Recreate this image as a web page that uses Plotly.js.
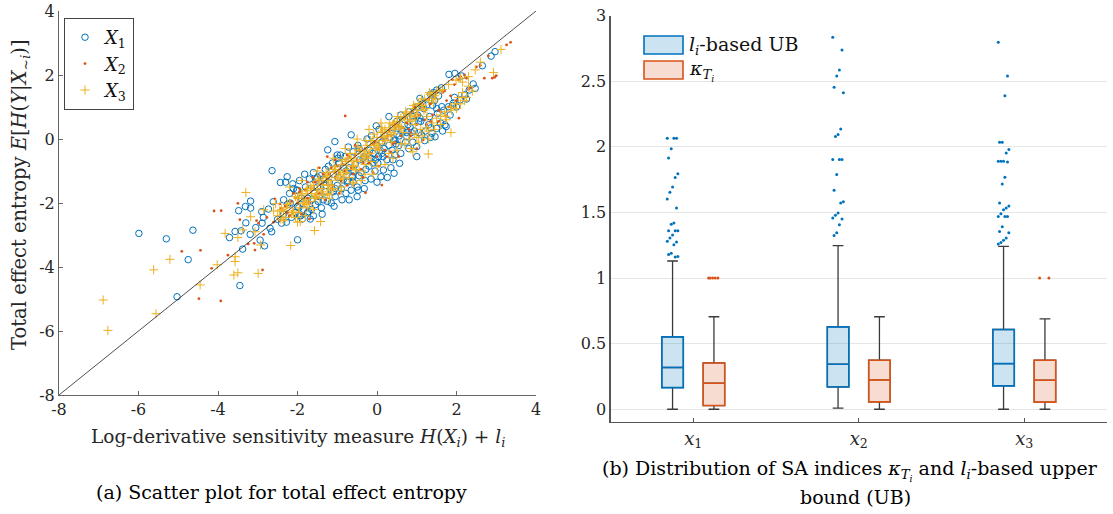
<!DOCTYPE html>
<html><head><meta charset="utf-8">
<script src="https://cdn.plot.ly/plotly-3.0.1.min.js"></script>
<style>html,body{margin:0;padding:0;background:#fff}#chart{width:1113px;height:514px}</style>
</head><body><div id="chart"></div>
<script>
// ---------- (a) scatter data ----------
var x1 = [-5.99,-5.30,-4.63,-4.75,-5.03,-3.45,-3.38,-3.71,-3.57,-3.42,-3.48,-3.31,-3.18,-3.18,-3.30,-3.19,-3.05,-2.94,-2.83,-2.90,
 -2.73,-2.61,-2.89,-2.69,-2.65,-2.86,-2.50,-2.40,-2.64,-2.00,-2.43,-2.26,-2.30,-2.20,-2.25,-2.10,-2.05,-1.95,-1.90,-1.85,
 -1.80,-2.15,-1.75,-1.70,-1.72,-2.00,-1.65,-1.60,-1.55,-1.50,-1.45,-1.40,-1.35,-1.30,-1.30,-1.25,-1.24,-1.20,-1.15,-1.10,
 -1.06,-1.05,-1.00,-0.95,-0.90,-0.88,-0.85,-0.80,-0.75,-0.70,-0.70,-0.65,-0.65,-0.60,-0.62,-0.55,-0.50,-0.47,-0.45,-0.40,
 -0.35,-0.30,-0.25,-0.20,-0.15,-0.10,-0.05,-0.02,0.00,0.02,0.05,0.10,0.12,0.16,0.20,0.25,0.30,0.30,0.35,0.40,
 0.43,0.45,0.50,0.55,0.57,0.60,0.60,0.70,0.80,0.90,1.00,1.08,1.15,1.25,0.75,0.80,0.83,0.90,1.00,1.05,
 1.12,1.20,1.35,1.50,1.55,1.45,1.38,1.46,1.50,1.30,1.60,1.63,1.71,1.74,1.80,1.92,2.09,2.21,2.32,2.47,
 2.42,1.90,1.81,1.96,2.13,2.65,2.87,2.97,1.62,1.42,-1.48,-0.78,-0.32,0.08,0.65,-1.92,-2.35,-0.98,0.38,1.10,
 -2.35,-2.18,-2.02,-1.88,-1.74,-1.58,-1.42,-1.28,-1.12,-0.98,-0.84,-0.72,-0.58,-0.44,-0.28,-0.14,0.04,0.18,0.34,0.48,
 0.62,0.78,0.94,1.08,1.22,1.36,1.52,1.68,1.84,2.00,-1.95,-1.65,-1.35,-1.05,-0.75,-0.45,-0.15,0.15,0.45,0.75,
 1.05,1.35,1.65,1.95,2.25,
 -2.28,-2.12,-1.97,-1.82,-1.68,-1.52,-1.38,-1.22,-1.08,-0.92,-0.78,-0.62,-0.48,-0.32,-0.18,-0.04,0.12,0.26,0.42,0.56,
 0.72,0.86,1.02,1.18,1.32,-1.60,-1.10,-0.60,-0.10,0.40,0.90,1.40,-2.00,-1.50,-1.00,-0.50,0.00,0.50,1.00,1.50];
var y1 = [-2.95,-3.12,-2.85,-3.77,-4.93,-4.58,-3.44,-3.08,-2.89,-2.87,-2.24,-2.11,-1.94,-2.16,-2.62,-2.98,-2.77,-3.16,-3.34,-2.27,
 -2.19,-1.96,-2.63,-2.79,-2.90,-2.45,-2.51,-2.63,-0.99,-3.15,-1.36,-1.18,-1.35,-1.70,-2.05,-1.55,-2.30,-1.30,-1.85,-2.20,
 -1.50,-2.45,-2.30,-1.25,-2.27,-2.11,-1.90,-1.05,-2.05,-1.50,-1.80,-2.15,-1.25,-0.95,-1.65,-1.95,-0.34,-1.35,-2.00,-1.10,
 -0.08,-1.80,-1.45,-0.75,-1.55,-1.90,-1.28,-0.55,-1.35,-1.90,-0.90,0.13,-1.60,-0.40,-1.15,-0.80,-1.50,-1.60,-0.30,-1.05,
 -0.60,-1.30,0.00,-0.85,-1.25,-0.45,-1.00,0.41,-0.20,-0.75,0.30,-1.18,-0.45,-0.97,0.10,-0.65,0.70,-0.20,-0.90,0.35,
 -1.07,-0.50,0.55,-0.20,-0.76,0.75,-0.45,0.60,0.85,0.70,1.00,1.27,1.10,1.06,0.07,-0.30,0.38,-0.10,-0.24,0.20,
 0.13,-0.05,1.40,1.53,1.35,1.20,0.18,0.07,0.33,0.45,0.50,1.01,0.44,0.39,1.01,1.12,1.22,1.38,1.53,1.58,
 1.72,1.05,2.02,2.05,1.97,2.29,2.59,2.73,1.60,1.45,-1.95,-1.00,-0.55,-0.35,0.25,-2.40,-2.35,-0.60,-0.35,0.55,
 -1.90,-2.00,-1.60,-2.50,-1.85,-1.70,-1.15,-1.45,-0.75,-1.20,-0.90,-0.25,-1.00,-0.65,-0.95,0.10,-0.55,-0.30,0.05,-0.15,
 0.30,0.45,0.25,0.65,0.25,0.35,0.80,0.90,0.75,1.00,-2.40,-2.20,-1.90,-1.55,-1.30,-1.15,-0.60,-0.55,-0.05,0.20,
 0.55,0.05,0.25,1.30,1.25,
 -2.60,-1.40,-2.15,-1.10,-2.50,-1.25,-2.35,-0.85,-2.10,-0.50,-1.70,-1.20,-0.20,-1.55,-0.35,-0.65,-0.10,-1.20,-0.05,0.10,
 -0.10,0.20,0.75,0.95,0.70,-2.40,-1.65,-1.35,-0.75,-0.65,0.55,1.05,-1.60,-1.20,-0.50,-1.80,-1.35,0.15,-0.55,0.95];

var x2 = [-4.91,-4.44,-4.48,-3.93,-4.16,-3.92,-3.75,-3.50,-3.45,-3.24,-3.07,-3.09,-2.88,-3.03,-2.98,-2.85,-2.77,-2.57,-2.44,-2.41,
 -0.80,3.26,3.36,2.90,3.00,2.20,2.06,1.74,0.12,-0.29,1.16,2.96,-4.10,-2.30,-2.20,-2.10,-2.00,-1.90,-1.80,-1.70,
 -1.60,-1.50,-1.40,-1.30,-1.20,-1.10,-1.00,-0.90,-0.80,-0.70,-0.60,-0.50,-0.40,-0.30,-0.20,-0.10,0.00,0.10,0.20,0.30,
 0.40,0.50,0.60,0.70,0.80,0.90,1.00,1.10,1.20,1.30,1.40,1.50,1.60,1.70,1.80,1.90,2.00,2.10,2.30,2.50,
 2.70,2.80,-1.70,-2.60,-1.45,-0.95,-0.35,0.55,1.00,-1.25,-1.95,-1.15,-0.55,0.05,0.35,0.85,1.35,-0.75,-1.62,0.25,
 -2.25,-2.05,-1.85,-1.65,-1.45,-1.25,-1.05,-0.85,-0.65,-0.45,-0.25,-0.05,0.15,0.35,0.55,0.75,0.95,1.15,1.35,1.55,
 1.75,1.95,2.15,2.35,-1.95,-1.55,-1.15,-0.75,-0.35,0.05,0.45,0.85,1.25,1.65,2.05,
 -2.15,-1.75,-1.35,-0.95,-0.55,-0.15,0.25,0.65,1.05,1.45,1.85,-2.45,-1.05,0.45,1.55,2.25,2.60,-0.10,-1.75,0.95];
var y2 = [-3.51,-3.48,-4.99,-5.06,-4.04,-2.24,-3.63,-2.01,-2.52,-3.28,-3.47,-3.26,-4.09,-2.55,-2.63,-2.98,-2.45,-1.87,-2.03,-2.17,
 0.72,2.94,3.02,1.90,1.98,2.00,0.65,0.72,-1.44,-1.68,-0.03,1.93,-2.25,-2.10,-2.40,-1.70,-2.00,-2.35,-1.60,-2.00,
 -1.35,-1.85,-1.40,-1.90,-1.10,-1.45,-0.85,-1.30,-1.00,-0.55,-1.10,-0.65,-0.95,-0.30,-0.75,-0.15,-0.55,0.05,-0.35,0.25,
 -0.15,0.45,0.10,0.65,0.30,0.85,0.45,1.10,0.60,1.25,0.75,1.45,0.85,1.50,1.00,1.85,1.20,1.95,1.55,2.25,
 1.90,2.60,-2.50,-2.60,-0.90,-1.70,-1.20,-0.55,-0.30,-0.55,-1.55,-0.90,-0.20,-0.85,-0.40,0.10,0.55,-1.45,-1.20,-0.55,
 -2.30,-1.85,-2.05,-1.55,-1.70,-1.25,-1.20,-0.80,-0.90,-0.35,-0.55,-0.10,-0.05,0.10,0.40,0.50,0.70,0.95,1.10,0.90,
 1.20,1.70,1.30,1.60,-1.65,-1.35,-1.55,-0.50,-0.75,-0.30,0.35,0.20,0.45,1.45,1.85,
 -1.95,-1.85,-1.10,-1.05,-0.50,-0.45,0.10,0.35,0.75,1.30,1.35,-2.55,-0.65,-0.10,0.55,1.90,2.30,-1.05,-1.35,1.00];

var x3 = [-6.89,-6.77,-5.56,-5.62,-5.21,-4.45,-4.02,-3.82,-3.57,-3.57,-3.60,-3.50,-3.50,-2.99,-3.38,-3.30,-3.18,-3.07,-2.93,-2.85,
 -2.55,-2.60,-1.93,-1.42,-1.57,-2.17,1.29,1.86,-2.50,-2.40,-2.30,-2.20,-2.10,-2.00,-1.95,-1.90,-1.85,-1.80,-1.75,-1.70,
 -1.65,-1.60,-1.55,-1.50,-1.45,-1.40,-1.35,-1.30,-1.25,-1.20,-1.15,-1.10,-1.05,-1.00,-0.95,-0.90,-0.85,-0.80,-0.75,-0.70,
 -0.65,-0.60,-0.55,-0.50,-0.45,-0.40,-0.35,-0.30,-0.25,-0.20,-0.15,-0.10,-0.05,0.00,0.05,0.10,0.15,0.20,0.25,0.30,
 0.35,0.40,0.45,0.50,0.55,0.60,0.70,0.75,0.85,0.90,1.00,1.05,1.15,1.20,1.30,1.35,1.45,1.50,-1.60,-1.20,
 -0.90,-0.60,-0.40,-0.10,0.20,0.40,-2.00,-1.80,-2.20,-1.90,-1.50,-1.10,-0.80,-0.50,-0.20,0.10,0.60,0.80,0.95,1.05,
 1.10,1.25,1.40,1.50,1.60,1.70,1.75,1.85,1.95,2.05,2.15,2.20,2.30,1.30,0.90,1.99,2.15,2.30,2.47,2.93,
 3.12,2.60,1.65,1.80,2.10,-1.25,-0.72,-0.28,0.18,0.68,-1.78,-2.35,-1.05,-0.15,0.45,1.12,1.58,-0.58,-1.38,0.95,
 -2.45,-2.35,-2.25,-2.15,-2.05,-1.98,-1.88,-1.78,-1.68,-1.58,-1.48,-1.38,-1.28,-1.18,-1.08,-0.98,-0.88,-0.78,-0.68,-0.58,
 -0.48,-0.38,-0.28,-0.18,-0.08,0.02,0.12,0.22,0.32,0.42,0.52,0.62,0.72,0.82,0.92,1.02,1.12,1.22,1.32,1.42,
 0.30,0.50,0.70,0.85,1.00,1.15,1.30,1.45,1.60,1.72,1.88,2.00,2.10,2.25,2.40,0.00,-0.30,-0.60,-0.90,-1.20,
 -2.42,-2.28,-2.12,-1.96,-1.82,-1.66,-1.52,-1.36,-1.22,-1.06,-0.92,-0.76,-0.62,-0.46,-0.32,-0.16,-0.02,0.14,0.28,0.44,
 0.58,0.74,0.88,1.04,1.18,1.34,1.48,-1.74,-1.44,-1.14,-0.84,-0.54,-0.24,0.06,0.36,0.66,0.96,1.26,-2.05,-1.25];
var y3 = [-5.03,-5.98,-5.46,-4.09,-3.76,-4.56,-3.93,-2.95,-3.68,-3.83,-4.25,-4.18,-3.08,-4.20,-2.84,-1.67,-2.43,-2.90,-3.31,-2.21,
 -2.02,-2.25,-2.58,-2.58,-2.86,-3.33,-0.47,0.20,-2.40,-2.20,-2.45,-2.00,-2.30,-1.85,-2.15,-1.70,-2.00,-1.90,-1.55,-1.95,
 -1.70,-1.45,-1.80,-1.60,-1.30,-1.55,-1.75,-1.20,-1.45,-1.05,-1.30,-1.55,-0.95,-1.20,-1.00,-0.80,-1.10,-0.70,-0.95,-1.20,
 -0.60,-0.85,-0.45,-0.70,-1.00,-0.35,-0.55,-0.80,-0.20,-0.45,-0.70,-0.05,-0.30,0.05,-0.15,0.20,-0.05,0.30,0.10,0.35,
 0.20,0.45,0.30,0.55,0.40,0.65,0.60,0.80,0.75,0.95,0.90,1.10,1.05,1.25,1.20,1.40,1.35,1.50,-2.20,-1.85,
 -1.60,-1.40,-1.30,-1.10,-0.80,-0.60,-2.60,-2.40,-1.50,-1.30,-1.00,-0.60,-0.30,0.00,0.30,0.50,-0.15,0.00,0.15,-0.10,
 0.30,0.35,0.50,0.65,0.75,0.85,0.60,1.00,1.10,1.30,1.45,1.20,1.65,0.00,-0.40,1.84,1.78,1.95,2.16,2.08,
 2.80,2.40,1.55,1.70,1.90,-1.15,-0.62,-0.38,0.05,0.70,-1.62,-2.25,-1.02,-0.20,0.42,1.05,1.52,-0.68,-1.42,0.70,
 -2.25,-2.55,-2.05,-2.35,-1.80,-2.30,-1.75,-2.05,-1.50,-1.85,-1.25,-1.65,-1.05,-1.45,-0.85,-1.25,-0.65,-1.05,-0.45,-0.85,
 -0.25,-0.65,-0.05,-0.45,0.15,-0.25,0.35,-0.05,0.50,0.15,0.70,0.35,0.85,0.55,1.05,0.75,1.25,0.95,1.45,1.15,
 -0.45,-0.35,-0.15,-0.30,0.05,0.10,0.25,0.30,0.45,0.70,0.90,0.95,1.10,1.30,1.50,-0.85,-1.10,-1.35,-1.50,-1.75,
 -2.50,-2.15,-2.25,-1.85,-2.00,-1.55,-1.75,-1.30,-1.45,-0.95,-1.15,-0.70,-0.85,-0.35,-0.50,-0.05,-0.20,0.25,0.10,0.50,
 0.35,0.80,0.60,1.10,0.90,1.40,1.25,-2.15,-1.85,-1.60,-1.25,-0.95,-0.60,-0.35,-0.10,0.20,0.45,0.70,-2.45,-1.70];

var refX = [-8, 4];
var refY = [-8, 4];

// ---------- (b) box data ----------
var catPos = [1, 2, 3];
var catLabels = ['<i>x</i><sub>1</sub>', '<i>x</i><sub>2</sub>', '<i>x</i><sub>3</sub>'];
var ubQ1  = [0.165, 0.170, 0.178];
var ubMed = [0.318, 0.343, 0.348];
var ubQ3  = [0.552, 0.628, 0.608];
var ubLo  = [0.000, 0.008, 0.000];
var ubHi  = [1.130, 1.247, 1.241];
var kQ1   = [0.028, 0.056, 0.054];
var kMed  = [0.198, 0.224, 0.221];
var kQ3   = [0.353, 0.374, 0.374];
var kLo   = [0.000, 0.000, 0.000];
var kHi   = [0.705, 0.705, 0.689];
var ubOut1 = [2.066,2.066,2.066,1.985,1.916,1.796,1.766,1.695,1.654,1.603,1.534,1.420,1.410,1.361,1.361,1.361,1.328,1.305,1.280,1.275,1.254,1.190,1.180,1.165,1.160];
var ubOut2 = [2.835,2.738,2.586,2.540,2.454,2.413,2.137,2.094,2.080,1.903,1.903,1.903,1.789,1.669,1.582,1.573,1.496,1.478,1.458,1.450,1.407,1.346,1.325];
var ubOut3 = [2.797,2.540,2.390,2.035,2.035,1.980,1.954,1.890,1.890,1.890,1.885,1.768,1.717,1.572,1.550,1.535,1.520,1.490,1.470,1.470,1.470,1.392,1.354,1.345,1.305,1.288,1.272,1.260];
var kOut1 = [1.0,1.0,1.0,1.0,1.0];
var kOut2 = [];
var kOut3 = [1.0,1.0];

// ---------- styling ----------
var FONT = 'DejaVu Serif';
var BLUE = '#0072BD', RED = '#D95319', YEL = '#EDB120';
var OFF = 0.125, BW = 0.13;
var W = 1113, H = 514;
function px(x){return x / W;}
function py(y){return 1 - y / H;}

var traces = [];
traces.push({type:'scatter', mode:'markers', x:x1, y:y1, name:'<i>X</i><sub>1</sub>', xaxis:'x', yaxis:'y',
  marker:{symbol:'circle-open', size:6.5, color:BLUE, line:{width:1, color:BLUE}}});
traces.push({type:'scatter', mode:'markers', x:x2, y:y2, name:'<i>X</i><sub>2</sub>', xaxis:'x', yaxis:'y',
  marker:{symbol:'circle', size:2.8, color:RED, line:{width:0}}});
traces.push({type:'scatter', mode:'markers', x:x3, y:y3, name:'<i>X</i><sub>3</sub>', xaxis:'x', yaxis:'y',
  marker:{symbol:'cross-thin-open', size:6.5, color:YEL, line:{width:1, color:YEL}}});
traces.push({type:'scatter', mode:'lines', x:refX, y:refY, showlegend:false, xaxis:'x', yaxis:'y',
  line:{color:'#222', width:0.8}, hoverinfo:'skip'});

function shift(arr, d){return arr.map(function(v){return v + d;});}
traces.push({type:'box', x:shift(catPos,-OFF), q1:ubQ1, median:ubMed, q3:ubQ3, lowerfence:ubLo, upperfence:ubHi,
  width:BW, whiskerwidth:0.5, line:{color:'#3a3a3a', width:1.3}, fillcolor:'rgba(0,0,0,0)', showlegend:false,
  xaxis:'x2', yaxis:'y2', boxpoints:false});
traces.push({type:'box', x:shift(catPos,OFF), q1:kQ1, median:kMed, q3:kQ3, lowerfence:kLo, upperfence:kHi,
  width:BW, whiskerwidth:0.5, line:{color:'#3a3a3a', width:1.3}, fillcolor:'rgba(0,0,0,0)', showlegend:false,
  xaxis:'x2', yaxis:'y2', boxpoints:false});
traces.push({type:'box', x:shift(catPos,-OFF), q1:ubQ1, median:ubMed, q3:ubQ3, lowerfence:ubQ1, upperfence:ubQ3,
  width:BW, whiskerwidth:0, line:{color:BLUE, width:1.6}, fillcolor:'rgba(0,114,189,0.2)', showlegend:false,
  xaxis:'x2', yaxis:'y2', boxpoints:false});
traces.push({type:'box', x:shift(catPos,OFF), q1:kQ1, median:kMed, q3:kQ3, lowerfence:kQ1, upperfence:kQ3,
  width:BW, whiskerwidth:0, line:{color:RED, width:1.6}, fillcolor:'rgba(217,83,25,0.2)', showlegend:false,
  xaxis:'x2', yaxis:'y2', boxpoints:false});

function jit(n, c, s){ var r=[]; for(var i=0;i<n;i++){ r.push(c + (((i*7)%9)-4)*s); } return r; }
var outSets = [[ubOut1, 1-OFF, BLUE],[ubOut2, 2-OFF, BLUE],[ubOut3, 3-OFF, BLUE],[kOut1, 1+OFF, RED],[kOut2, 2+OFF, RED],[kOut3, 3+OFF, RED]];
outSets.forEach(function(o){
  if(!o[0].length) return;
  traces.push({type:'scatter', mode:'markers', x:jit(o[0].length, o[1], 0.008), y:o[0], showlegend:false,
    xaxis:'x2', yaxis:'y2', marker:{symbol:'circle', size:3, color:o[2]}});
});

var tickFont = {family:FONT, size:16, color:'#262626'};
var layout = {
  width:W, height:H, margin:{l:0,r:0,t:0,b:0}, paper_bgcolor:'#fff', plot_bgcolor:'rgba(0,0,0,0)',
  boxmode:'overlay', font:{family:FONT, color:'#262626'},
  xaxis:{domain:[px(59), px(536)], range:[-8,4], tickvals:[-8,-6,-4,-2,0,2,4], ticktext:['-8','-6','-4','-2','0','2','4'],
    showgrid:false, zeroline:false, showline:true, linecolor:'#666', linewidth:1, ticks:'inside', ticklen:4, tickcolor:'#666',
    tickfont:tickFont, anchor:'y'},
  yaxis:{domain:[py(395), py(11)], range:[-8,4], tickvals:[-8,-6,-4,-2,0,2,4], ticktext:['-8','-6','-4','-2','0','2','4'],
    showgrid:false, zeroline:false, showline:true, linecolor:'#666', linewidth:1, ticks:'inside', ticklen:4, tickcolor:'#666',
    tickfont:tickFont, anchor:'x'},
  xaxis2:{domain:[px(610.5), px(1107)], range:[0.5,3.5], tickvals:catPos, ticktext:catLabels,
    showgrid:false, zeroline:false, showline:true, linecolor:'#555', linewidth:1.2, ticks:'inside', ticklen:4, tickcolor:'#555',
    tickfont:{family:FONT, size:18, color:'#262626'}, anchor:'y2'},
  yaxis2:{domain:[py(421.7), py(15.7)], range:[-0.095,3], tickvals:[0,0.5,1,1.5,2,2.5,3], ticktext:['0','0.5','1','1.5','2','2.5','3'],
    showgrid:true, gridcolor:'#e6e6e6', gridwidth:1, zeroline:false, showline:true, linecolor:'#555', linewidth:1.2, ticks:'',
    tickfont:tickFont, anchor:'x2'},
  showlegend:true,
  legend:{x:px(64), y:py(18), xanchor:'left', yanchor:'top', bgcolor:'#fff', bordercolor:'#444', borderwidth:1,
    font:{family:FONT, size:18, color:'#111'}, itemwidth:30, tracegroupgap:0},
  shapes:[
    {type:'rect', xref:'paper', yref:'paper', x0:px(644), x1:px(683), y0:py(54), y1:py(36), line:{color:BLUE, width:1.6}, fillcolor:'rgba(0,114,189,0.2)'},
    {type:'rect', xref:'paper', yref:'paper', x0:px(644), x1:px(683), y0:py(79), y1:py(61), line:{color:RED, width:1.6}, fillcolor:'rgba(217,83,25,0.2)'}
  ],
  annotations:[
    {xref:'paper', yref:'paper', x:px(20), y:py(195), text:'Total effect entropy <i>E</i>[<i>H</i>(<i>Y</i>|<i>X</i><sub>~<i>i</i></sub>)]',
      textangle:-90, showarrow:false, font:{family:FONT, size:19.5, color:'#262626'}, xanchor:'center', yanchor:'middle'},
    {xref:'paper', yref:'paper', x:px(298), y:py(438), text:'Log-derivative sensitivity measure <i>H</i>(<i>X<sub>i</sub></i>) + <i>l<sub>i</sub></i>',
      showarrow:false, font:{family:FONT, size:18.5, color:'#262626'}, xanchor:'center', yanchor:'middle'},
    {xref:'paper', yref:'paper', x:px(281), y:py(492), text:'(a) Scatter plot for total effect entropy',
      showarrow:false, font:{family:FONT, size:19, color:'#000'}, xanchor:'center', yanchor:'middle'},
    {xref:'paper', yref:'paper', x:px(850), y:py(470), text:'(b) Distribution of SA indices <i>κ</i><sub><i>T<sub>i</sub></i></sub> and <i>l<sub>i</sub></i>-based upper',
      showarrow:false, font:{family:FONT, size:19, color:'#000'}, xanchor:'center', yanchor:'middle'},
    {xref:'paper', yref:'paper', x:px(855), y:py(497), text:'bound (UB)',
      showarrow:false, font:{family:FONT, size:19, color:'#000'}, xanchor:'center', yanchor:'middle'},
    {xref:'paper', yref:'paper', x:px(687), y:py(45), text:'<i>l<sub>i</sub></i>-based UB',
      showarrow:false, font:{family:FONT, size:19, color:'#111'}, xanchor:'left', yanchor:'middle'},
    {xref:'paper', yref:'paper', x:px(687), y:py(71), text:'<i>κ</i><sub><i>T<sub>i</sub></i></sub>',
      showarrow:false, font:{family:FONT, size:19, color:'#111'}, xanchor:'left', yanchor:'middle'}
  ]
};

Plotly.newPlot('chart', traces, layout, {displayModeBar:false, staticPlot:true});
</script></body></html>
